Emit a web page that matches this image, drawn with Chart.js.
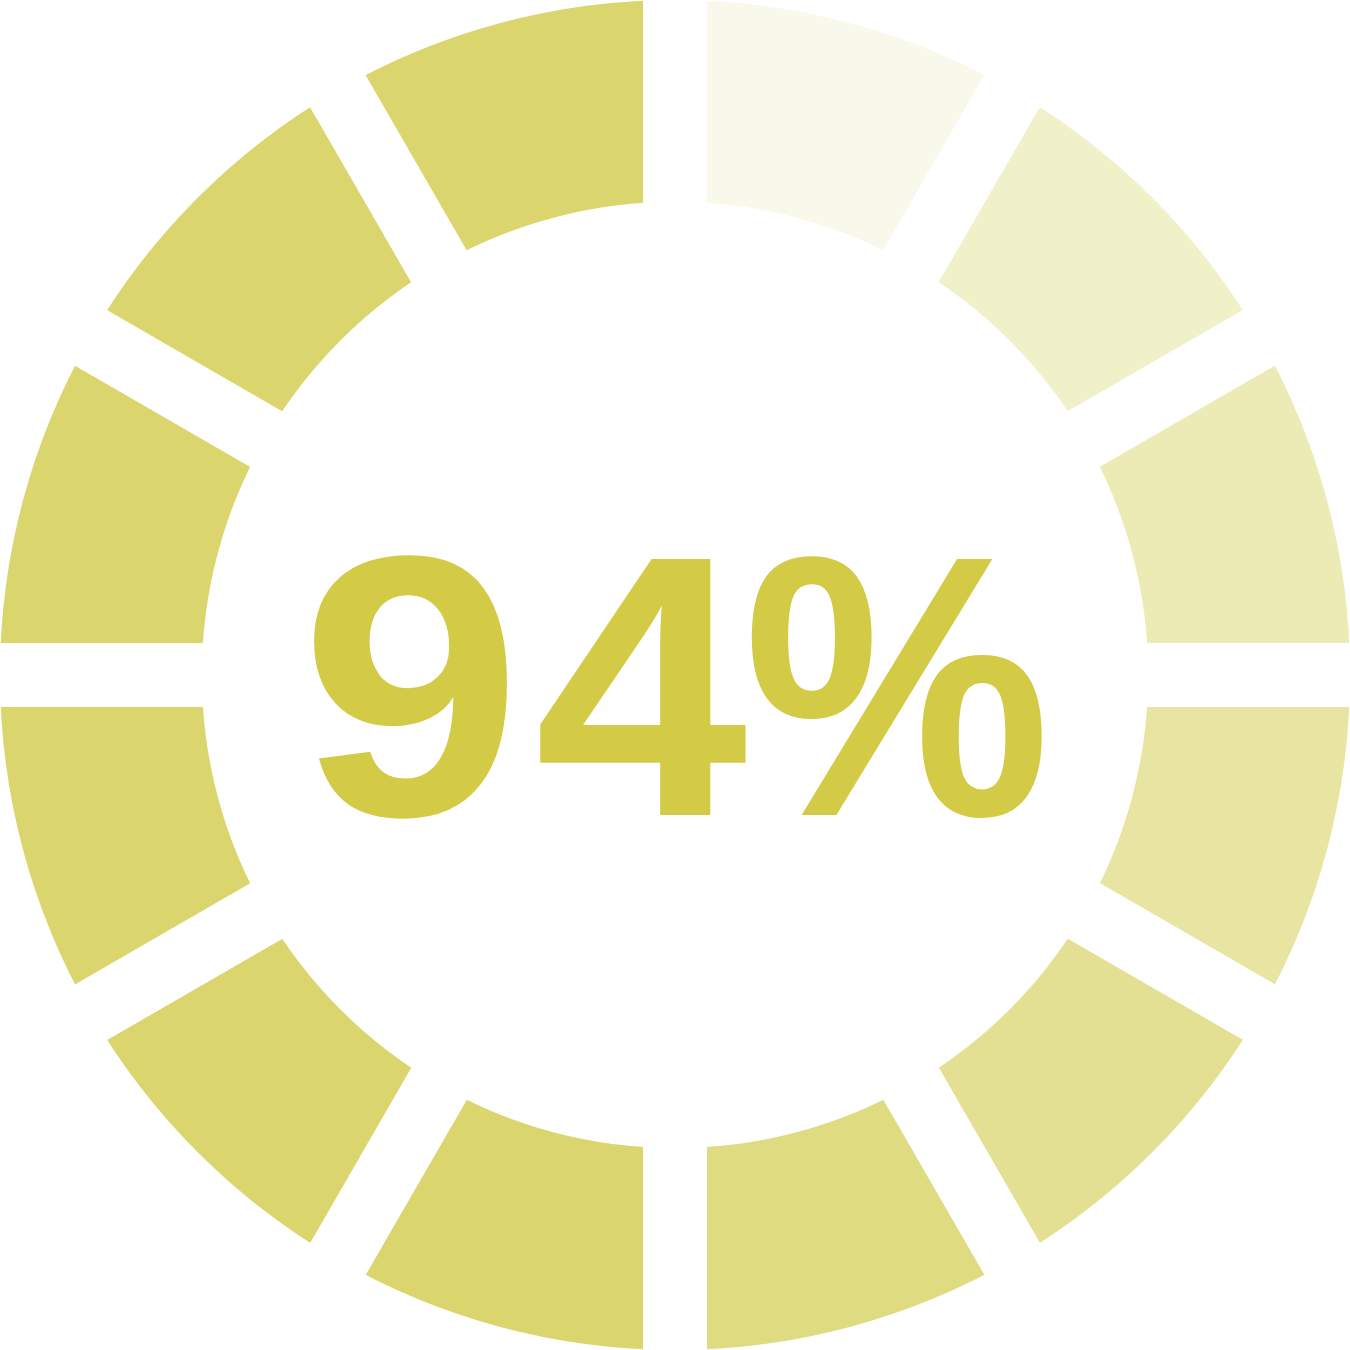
<!DOCTYPE html>
<html>
  <head>
    <title>94%</title>
    <script src="https://cdn.jsdelivr.net/npm/chart.js"></script>
    <style>
      html,
      body {
        margin: 0;
        padding: 0;
        background: #ffffff;
        overflow: hidden;
        width: 1350px;
        height: 1350px;
      }
      /* canvas is bigger than the page: the white 64px borders cut the
         gaps and trim the ring to the window edge */
      #wrap {
        position: absolute;
        left: -64px;
        top: -64px;
        width: 1478px;
        height: 1478px;
      }
    </style>
  </head>
  <body>
    <div id="wrap">
      <canvas id="ring"></canvas>
    </div>

    <script>
      // data
      var segmentLabels = ["1", "2", "3", "4", "5", "6", "7", "8", "9", "10", "11", "12"];
      var segmentValues = [1, 1, 1, 1, 1, 1, 1, 1, 1, 1, 1, 1];
      var centerLabel = "94%";

      // styles
      var segmentColors = [
        "#F8F9EA",
        "#F0F0C9",
        "#EDEBB5",
        "#E8E4A1",
        "#E4E093",
        "#DFDB80",
        "#DAD66D",
        "#DAD66D",
        "#DAD66D",
        "#DAD66D",
        "#DAD66D",
        "#DAD66D",
      ];
      var textColor = "#D3CA45";

      // glyph placement, relative to the ring centre (dx, horizontal stretch)
      var glyphShift = [-264, -34, 222];
      var glyphStretch = [1.07, 1.03, 0.93];

      var centerTextPlugin = {
        id: "centerText",
        afterDraw: function (chart) {
          var ctx = chart.ctx;
          var arc = chart.getDatasetMeta(0).data[0];
          var chars = centerLabel.split("");
          ctx.save();
          ctx.fillStyle = textColor;
          ctx.font = "bold 372px 'Liberation Sans'";
          ctx.textAlign = "center";
          ctx.textBaseline = "alphabetic";
          chars.forEach(function (ch, i) {
            ctx.save();
            ctx.translate(arc.x + glyphShift[i], arc.y + 140);
            ctx.scale(glyphStretch[i], 1);
            ctx.fillText(ch, 0, 0);
            ctx.restore();
          });
          ctx.restore();
        },
      };

      var ctx = document.getElementById("ring").getContext("2d");
      var ring = new Chart(ctx, {
        type: "doughnut",
        data: {
          labels: segmentLabels,
          datasets: [
            {
              data: segmentValues,
              backgroundColor: segmentColors,
              borderColor: "#ffffff",
              borderWidth: 64,
              borderAlign: "center",
              borderJoinStyle: "miter",
              hoverOffset: 0,
            },
          ],
        },
        options: {
          responsive: true,
          maintainAspectRatio: false,
          animation: false,
          events: [],
          cutout: "62.4%",
          layout: { padding: 0 },
          plugins: {
            legend: { display: false },
            tooltip: { enabled: false },
          },
        },
        plugins: [centerTextPlugin],
      });
    </script>
  </body>
</html>
